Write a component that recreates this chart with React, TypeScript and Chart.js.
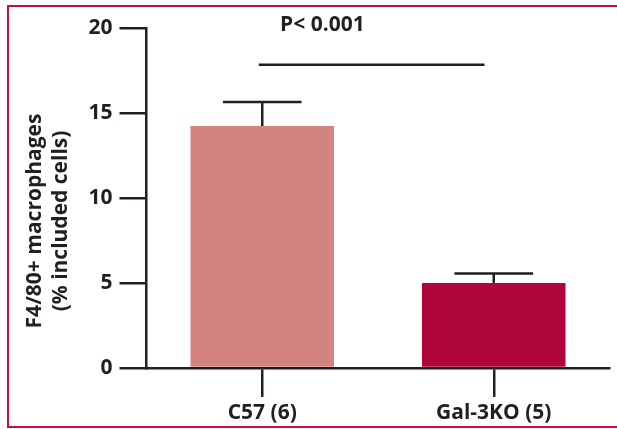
import React, { useEffect, useRef } from "react";
import { Chart, registerables } from "chart.js";

Chart.register(...registerables);

const categories = ["C57 (6)", "Gal-3KO (5)"];
const means = [14.24, 5.0];
const errors = [1.41, 0.56];
const barColors = ["#d48480", "#b00538"];
const yTicks = [0, 5, 10, 15, 20];
const yTitle = ["F4/80+ macrophages", "(% included cells)"];
const pText = "P< 0.001";
const sigLevel = 17.84;
const sigRange = [-0.015, 0.96];
const pTextPos = [0.26, 20.2];

const INK = "#231f20";
const FONT = "'Open Sans', 'Noto Sans', sans-serif";

const overlay = {
  id: "overlay",
  afterDatasetsDraw(chart: any) {
    const { ctx, scales } = chart;
    const x = scales.x;
    const y = scales.y;
    const meta = chart.getDatasetMeta(0);
    ctx.save();
    ctx.strokeStyle = INK;
    ctx.lineWidth = 2.5;
    ctx.lineCap = "butt";
    meta.data.forEach((bar: any, i: number) => {
      const cx = bar.x;
      const top = y.getPixelForValue(means[i]);
      const cap = y.getPixelForValue(means[i] + errors[i]);
      const half = (x.getPixelForValue(1) - x.getPixelForValue(0)) * 0.17;
      ctx.beginPath();
      ctx.moveTo(cx, top);
      ctx.lineTo(cx, cap);
      ctx.moveTo(cx - half, cap);
      ctx.lineTo(cx + half, cap);
      ctx.stroke();
    });
    // significance line
    const sy = y.getPixelForValue(sigLevel);
    ctx.beginPath();
    ctx.moveTo(x.getPixelForValue(sigRange[0]), sy);
    ctx.lineTo(x.getPixelForValue(sigRange[1]), sy);
    ctx.stroke();
    // P text
    ctx.fillStyle = INK;
    ctx.font = `bold 21px ${FONT}`;
    ctx.textAlign = "center";
    ctx.textBaseline = "middle";
    ctx.fillText(pText, x.getPixelForValue(pTextPos[0]), y.getPixelForValue(pTextPos[1]));
    // y title
    const cy = (y.top + y.bottom) / 2 + 23;
    ctx.translate(0, cy);
    ctx.rotate(-Math.PI / 2);
    ctx.fillText(yTitle[0], 0, 35);
    ctx.fillText(yTitle[1], 0, 61);
    ctx.restore();
  },
};

export default function App() {
  const ref = useRef<HTMLCanvasElement>(null);
  useEffect(() => {
    const chart = new Chart(ref.current!, {
      type: "bar",
      data: {
        labels: categories,
        datasets: [
          {
            data: means,
            backgroundColor: barColors,
            borderWidth: 0,
            categoryPercentage: 1,
            barPercentage: 0.62,
          },
        ],
      },
      options: {
        animation: false,
        responsive: false,
        maintainAspectRatio: false,
        layout: { padding: { top: 28, right: 7.5, left: 0, bottom: 0 } },
        plugins: { legend: { display: false }, tooltip: { enabled: false } },
        scales: {
          x: {
            type: "category",
            grid: {
              display: true,
              offset: false,
              drawOnChartArea: false,
              drawTicks: true,
              tickLength: 29,
              tickColor: INK,
              lineWidth: 2.5,
            },
            border: { display: true, color: INK, width: 2.5 },
            ticks: {
              color: INK,
              font: { family: FONT, size: 21, weight: "bold" },
              padding: 3,
              maxRotation: 0,
            },
            afterFit(scale: any) {
              scale.height = 61;
            },
          },
          y: {
            min: 0,
            max: 20,
            afterBuildTicks(scale: any) {
              scale.ticks = yTicks.map((v) => ({ value: v }));
            },
            grid: {
              display: true,
              drawOnChartArea: false,
              drawTicks: true,
              tickLength: 27,
              tickColor: INK,
              lineWidth: 2.5,
            },
            border: { display: true, color: INK, width: 2.5 },
            ticks: {
              color: INK,
              font: { family: FONT, size: 21, weight: "bold" },
              padding: 7,
            },
            afterFit(scale: any) {
              scale.width = 146.5;
            },
          },
        },
      },
      plugins: [overlay],
    });
    return () => chart.destroy();
  }, []);

  return (
    <div style={{ position: "fixed", left: 0, top: 0, width: 617, height: 429, background: "#fff", overflow: "hidden" }}>
      <canvas ref={ref} width={617} height={429} style={{ position: "absolute", left: 0, top: 0 }} />
      <div
        style={{
          position: "absolute",
          left: 7,
          top: 5,
          width: 640,
          height: 419,
          border: "2.5px solid #c41040",
          pointerEvents: "none",
        }}
      />
    </div>
  );
}
